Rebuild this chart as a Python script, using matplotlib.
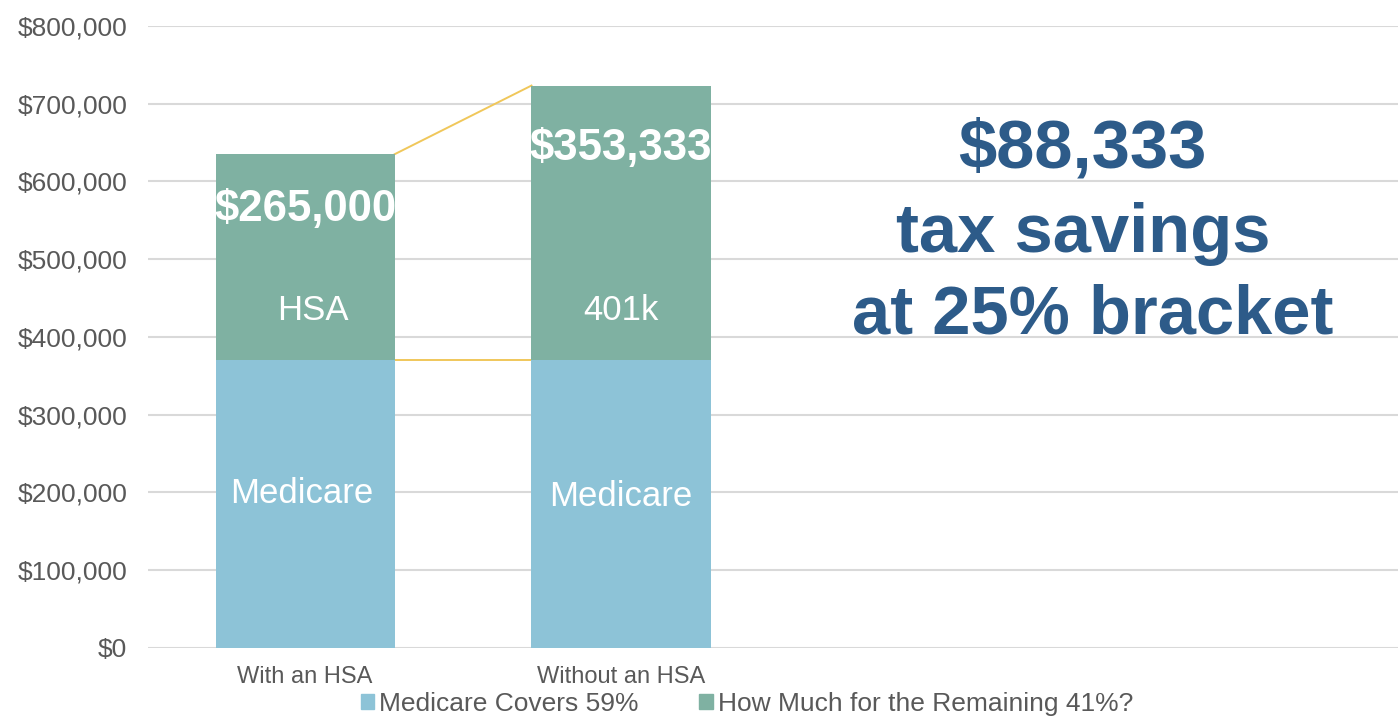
import matplotlib.pyplot as plt
from matplotlib.patches import Patch
from matplotlib.ticker import FuncFormatter

plt.rcParams['font.family'] = ['Liberation Sans', 'DejaVu Sans']

# ---- data ----
categories = ["With an HSA", "Without an HSA"]
medicare = [370000, 370000]
remaining = [265000, 353333]
segment_names = ["HSA", "401k"]
series_names = ["Medicare Covers 59%", "How Much for the Remaining 41%?"]
savings_lines = ["$88,333", "tax savings", "at 25% bracket"]

# ---- styles ----
blue = "#8DC3D7"
green = "#7FB1A2"
gold = "#F0C75A"
grey_text = "#595959"
grid_col = "#D9D9D9"
navy = "#2D5B89"
bar_w = 0.567

fig = plt.figure(figsize=(13.98, 7.18), dpi=100)
ax = fig.add_axes([0.1059, 0.098, 0.8941, 0.8658])

x = list(range(len(categories)))
ax.bar(x, medicare, width=bar_w, color=blue, zorder=3)
ax.bar(x, remaining, width=bar_w, bottom=medicare, color=green, zorder=3)

# connector lines between the stacked bars
tops = [m + r for m, r in zip(medicare, remaining)]
ax.plot([x[0] + bar_w / 2, x[1] - bar_w / 2], tops, color=gold, lw=1.4, zorder=2)
ax.plot([x[0] + bar_w / 2, x[1] - bar_w / 2], medicare, color=gold, lw=1.4, zorder=2)

# labels inside the segments (baseline as fraction of segment height)
med_pos = [0.503, 0.493]
name_pos = [0.196, 0.147]
val_pos = [0.675, 0.73]
for i in x:
    ax.text(i - (0.01 if i == 0 else 0), medicare[i] * med_pos[i], "Medicare",
            color="white", fontsize=25, ha="center", va="baseline", zorder=4)
    ax.text(i + (0.025 if i == 0 else 0), medicare[i] + remaining[i] * name_pos[i],
            segment_names[i], color="white", fontsize=25, ha="center",
            va="baseline", zorder=4)
    ax.text(i, medicare[i] + remaining[i] * val_pos[i], f"${remaining[i]:,.0f}",
            color="white", fontsize=31.5, fontweight="bold", ha="center",
            va="baseline", zorder=4)

# axes styling
ax.set_ylim(0, 800000)
ax.set_xlim(-0.497, 3.459)
ax.set_yticks(range(0, 800001, 100000))
ax.yaxis.set_major_formatter(FuncFormatter(lambda v, p: f"${v:,.0f}"))
ax.set_xticks(x)
ax.set_xticklabels(categories)
ax.tick_params(axis="y", length=0, pad=15, labelsize=19, labelcolor=grey_text)
ax.tick_params(axis="x", length=0, pad=13, labelsize=17, labelcolor=grey_text)
ax.grid(axis="y", color=grid_col, lw=1.5, zorder=0)
for s in ax.spines.values():
    s.set_visible(False)

# savings callout
savings_x = [1082, 1083, 1093]
savings_base = [167, 252, 333]
for line, px, py in zip(savings_lines, savings_x, savings_base):
    fig.text(px / 1398, 1 - py / 718, line, color=navy, fontsize=49.5,
             fontweight="bold", ha="center", va="baseline")

handles = [Patch(color=blue), Patch(color=green)]
fig.legend(handles, series_names, loc="center", bbox_to_anchor=(747 / 1398, 1 - 704 / 718),
           ncol=2, frameon=False, fontsize=19, labelcolor=grey_text,
           handlelength=0.5, handleheight=0.5, handletextpad=0.2,
           columnspacing=2.3, borderpad=0)

fig.savefig("out.png", dpi=100)
